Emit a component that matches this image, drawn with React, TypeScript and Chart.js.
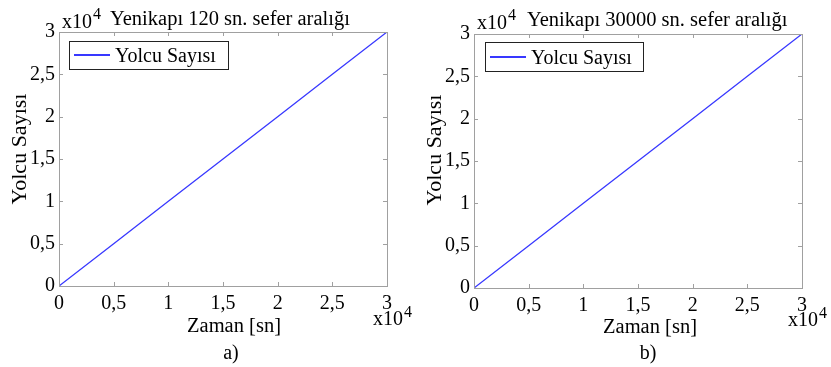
import React, { useEffect, useRef } from "react";
import { Chart, registerables } from "chart.js";

Chart.register(...registerables);

// ---- data ----
const timeValues = [0, 5000, 10000, 15000, 20000, 25000, 30000];
const passengersA = [0, 5000, 10000, 15000, 20000, 25000, 30000];
const passengersB = [0, 5000, 10000, 15000, 20000, 25000, 30000];
const tickValues = [0, 5000, 10000, 15000, 20000, 25000, 30000];
const titleA = "Yenikapı 120 sn. sefer aralığı";
const titleB = "Yenikapı 30000 sn. sefer aralığı";
const seriesLabel = "Yolcu Sayısı";
const xTitle = "Zaman [sn]";
const yTitle = "Yolcu Sayısı";

const FONT = "'Liberation Serif', 'Times New Roman', serif";
const LINE_COLOR = "#3838ff";

type PanelProps = {
  left: number;
  width: number;
  height: number;
  area: { l: number; r: number; t: number; b: number };
  values: number[];
  title: string;
  caption: string;
  titleX: number;
  topDy: number;
  xTitleX: number;
  captionX: number;
  legend: { x1: number; y1: number; x2: number; y2: number };
};

function fmt(v: number) {
  return String(v / 10000).replace(".", ",");
}

function Panel(p: PanelProps) {
  const ref = useRef<HTMLCanvasElement | null>(null);
  useEffect(() => {
    if (!ref.current) return;
    const deco = {
      id: "deco",
      afterDraw(chart: any) {
        const ctx = chart.ctx as CanvasRenderingContext2D;
        const xs = chart.scales.x;
        const ys = chart.scales.y;
        const { left, right, top, bottom } = chart.chartArea;
        ctx.save();
        // box
        ctx.strokeStyle = "#a0a0a0";
        ctx.lineWidth = 1;
        ctx.strokeRect(Math.round(left) + 0.5, Math.round(top) + 0.5, Math.round(right - left), Math.round(bottom - top));
        // inside ticks
        const tl = 4;
        ctx.beginPath();
        tickValues.forEach((v) => {
          const px = Math.round(xs.getPixelForValue(v)) + 0.5;
          ctx.moveTo(px, bottom);
          ctx.lineTo(px, bottom - tl);
          ctx.moveTo(px, top);
          ctx.lineTo(px, top + tl);
          const py = Math.round(ys.getPixelForValue(v)) + 0.5;
          ctx.moveTo(left, py);
          ctx.lineTo(left + tl, py);
          ctx.moveTo(right, py);
          ctx.lineTo(right - tl, py);
        });
        ctx.stroke();

        ctx.fillStyle = "#000";
        ctx.textBaseline = "alphabetic";
        // top exponent + title
        ctx.textAlign = "left";
        ctx.font = `20px ${FONT}`;
        ctx.fillText("x10", 62, 28 + p.topDy);
        ctx.font = `16px ${FONT}`;
        ctx.fillText("4", 93, 19 + p.topDy);
        ctx.font = `20.5px ${FONT}`;
        ctx.fillText(p.title, p.titleX, 25 + p.topDy);
        // bottom exponent
        ctx.font = `20px ${FONT}`;
        ctx.fillText("x10", 373, 325 + p.topDy);
        ctx.font = `16px ${FONT}`;
        ctx.fillText("4", 404, 317 + p.topDy);
        // x title
        ctx.font = `20.5px ${FONT}`;
        ctx.textAlign = "center";
        ctx.fillText(xTitle, p.xTitleX, 332 + p.topDy);
        ctx.font = `20px ${FONT}`;
        ctx.fillText(p.caption, p.captionX, 359);
        // y title
        ctx.save();
        ctx.translate(20, 149 + p.topDy);
        ctx.rotate(-Math.PI / 2);
        ctx.textBaseline = "middle";
        ctx.font = `22px ${FONT}`;
        ctx.fillText(yTitle, 0, 0);
        ctx.restore();
        // legend
        const lg = p.legend;
        ctx.fillStyle = "#fff";
        ctx.fillRect(lg.x1, lg.y1, lg.x2 - lg.x1, lg.y2 - lg.y1);
        ctx.strokeStyle = "#222";
        ctx.lineWidth = 1;
        ctx.strokeRect(lg.x1 + 0.5, lg.y1 + 0.5, lg.x2 - lg.x1, lg.y2 - lg.y1);
        const my = Math.round((lg.y1 + lg.y2) / 2);
        ctx.strokeStyle = LINE_COLOR;
        ctx.lineWidth = 2;
        ctx.beginPath();
        ctx.moveTo(lg.x1 + 5, my);
        ctx.lineTo(lg.x1 + 41, my);
        ctx.stroke();
        ctx.fillStyle = "#000";
        ctx.textAlign = "left";
        ctx.textBaseline = "alphabetic";
        ctx.font = `20px ${FONT}`;
        ctx.fillText(seriesLabel, lg.x1 + 46, my + 7);
        ctx.restore();
      },
    };
    const chart = new Chart(ref.current, {
      type: "line",
      data: {
        datasets: [
          {
            label: seriesLabel,
            data: timeValues.map((x, i) => ({ x, y: p.values[i] })),
            borderColor: LINE_COLOR,
            borderWidth: 1.3,
            pointRadius: 0,
            fill: false,
            tension: 0,
          },
        ],
      },
      options: {
        animation: false,
        responsive: false,
        maintainAspectRatio: false,
        layout: {
          padding: { left: 0, top: p.area.t, right: p.width - p.area.r, bottom: 0 },
        },
        plugins: { legend: { display: false }, tooltip: { enabled: false }, title: { display: false } },
        scales: {
          x: {
            type: "linear",
            min: 0,
            max: 30000,
            afterBuildTicks: (s: any) => {
              s.ticks = tickValues.map((v) => ({ value: v }));
            },
            afterFit: (s: any) => {
              s.height = p.height - p.area.b;
            },
            grid: { display: false, drawTicks: false },
            border: { display: false },
            ticks: {
              padding: 6,
              color: "#000",
              maxRotation: 0,
              autoSkip: false,
              font: { family: FONT, size: 20 },
              callback: (v: any) => fmt(Number(v)),
            },
          },
          y: {
            type: "linear",
            min: 0,
            max: 30000,
            afterBuildTicks: (s: any) => {
              s.ticks = tickValues.map((v) => ({ value: v }));
            },
            afterFit: (s: any) => {
              s.width = p.area.l;
            },
            grid: { display: false, drawTicks: false },
            border: { display: false },
            ticks: {
              padding: 4,
              color: "#000",
              autoSkip: false,
              font: { family: FONT, size: 20 },
              callback: (v: any) => fmt(Number(v)),
            },
          },
        },
      },
      plugins: [deco],
    } as any);
    return () => chart.destroy();
  }, []);
  return (
    <canvas
      ref={ref}
      width={p.width}
      height={p.height}
      style={{ position: "absolute", left: p.left, top: 0, width: p.width, height: p.height }}
    />
  );
}

export default function App() {
  return (
    <div style={{ position: "fixed", left: 0, top: 0, width: 831, height: 367, background: "#fff", overflow: "hidden" }}>
      <Panel
        left={0}
        width={415}
        height={367}
        area={{ l: 59, r: 387, t: 32, b: 286 }}
        values={passengersA}
        title={titleA}
        caption="a)"
        titleX={110}
        topDy={0}
        xTitleX={234}
        captionX={231}
        legend={{ x1: 69, y1: 41, x2: 228, y2: 69 }}
      />
      <Panel
        left={415}
        width={416}
        height={367}
        area={{ l: 59, r: 387, t: 34, b: 288 }}
        values={passengersB}
        title={titleB}
        caption="b)"
        titleX={112}
        topDy={1}
        xTitleX={235}
        captionX={233}
        legend={{ x1: 70, y1: 42, x2: 228, y2: 71 }}
      />
    </div>
  );
}
